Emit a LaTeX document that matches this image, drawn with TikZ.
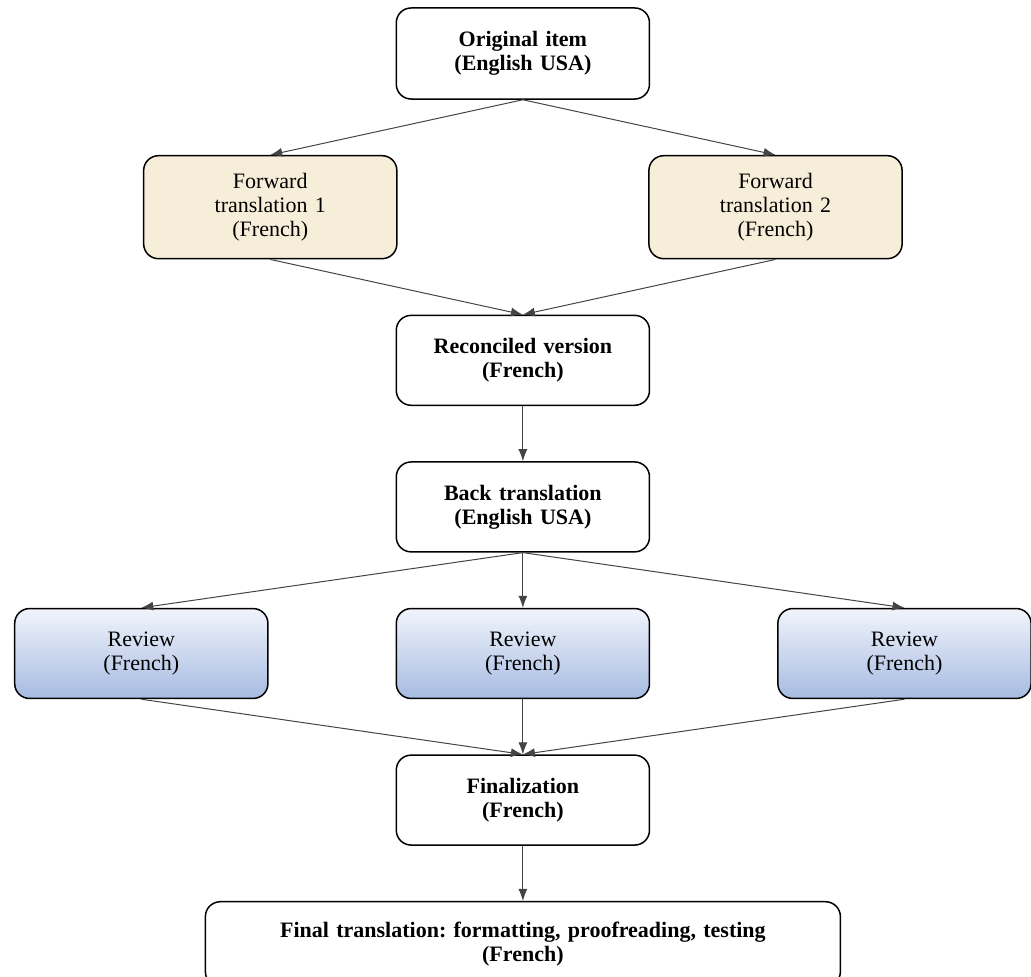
\documentclass[tikz,border=0pt]{standalone}
\usepackage{fontspec}
\setmainfont{Liberation Serif}
\usetikzlibrary{positioning,arrows.meta}
\definecolor{ftcolor}{RGB}{247,238,218}
\definecolor{revtop}{RGB}{241,244,251}
\definecolor{revbottom}{RGB}{166,187,226}
\definecolor{linecolor}{RGB}{68,68,68}
\frenchspacing

\begin{document}
\begin{tikzpicture}[node distance=0.97cm,
    box/.style={rectangle, draw, rounded corners=0.26cm, line width=0.75pt, text width=4.1cm, align=center, minimum width=4.45cm, minimum height=1.58cm, font=\fontsize{11}{12}\selectfont},
    boldbox/.style={box, font=\fontsize{11}{12}\selectfont\bfseries},
    ftbox/.style={box, fill=ftcolor, minimum height=1.81cm},
    revbox/.style={box, top color=revtop, bottom color=revbottom},
    arr/.style={-{Latex[length=6pt,width=4.5pt]}, linecolor, line width=0.5pt}]
    \useasboundingbox (-9.19,0.94) rectangle (8.93,-16.23);
    % Noder
    \node (orig) [boldbox, minimum height=1.6cm] {Original item\\(English USA)};
    \node (ft1) [ftbox, below=of orig, xshift=-4.44cm] {Forward\\translation 1\\(French)};
    \node (ft2) [ftbox, below=of orig, xshift=4.44cm] {Forward\\translation 2\\(French)};
    \node (rec) [boldbox, below=of ft1, xshift=4.44cm] {Reconciled version\\(French)};
    \node (back) [boldbox, below=of rec] {Back translation\\(English USA)};
    \node (rev2) [revbox, below=of back] {Review\\(French)};
    \node (rev1) [revbox, left=2.23cm of rev2] {Review\\(French)};
    \node (rev3) [revbox, right=2.23cm of rev2] {Review\\(French)};
    \node (fin) [boldbox, below=of rev2] {Finalization\\(French)};
    \node (final) [boldbox, below=of fin, text width=10.8cm, minimum width=11.16cm, minimum height=1.49cm] {Final translation: formatting, proofreading, testing\\(French)};
    % Pilarna
    \draw [arr] (orig.south) -- (ft1.north);
    \draw [arr] (orig.south) -- (ft2.north);
    \draw [arr] (ft1.south) -- (rec.north);
    \draw [arr] (ft2.south) -- (rec.north);
    \draw [arr] (rec) -- (back);
    \draw [arr] (back.south) -- (rev1.north);
    \draw [arr] (back) -- (rev2);
    \draw [arr] (back.south) -- (rev3.north);
    \draw [arr] (rev1.south) -- (fin.north);
    \draw [arr] (rev2) -- (fin);
    \draw [arr] (rev3.south) -- (fin.north);
    \draw [arr] (fin) -- (final);
\end{tikzpicture}
\end{document}
